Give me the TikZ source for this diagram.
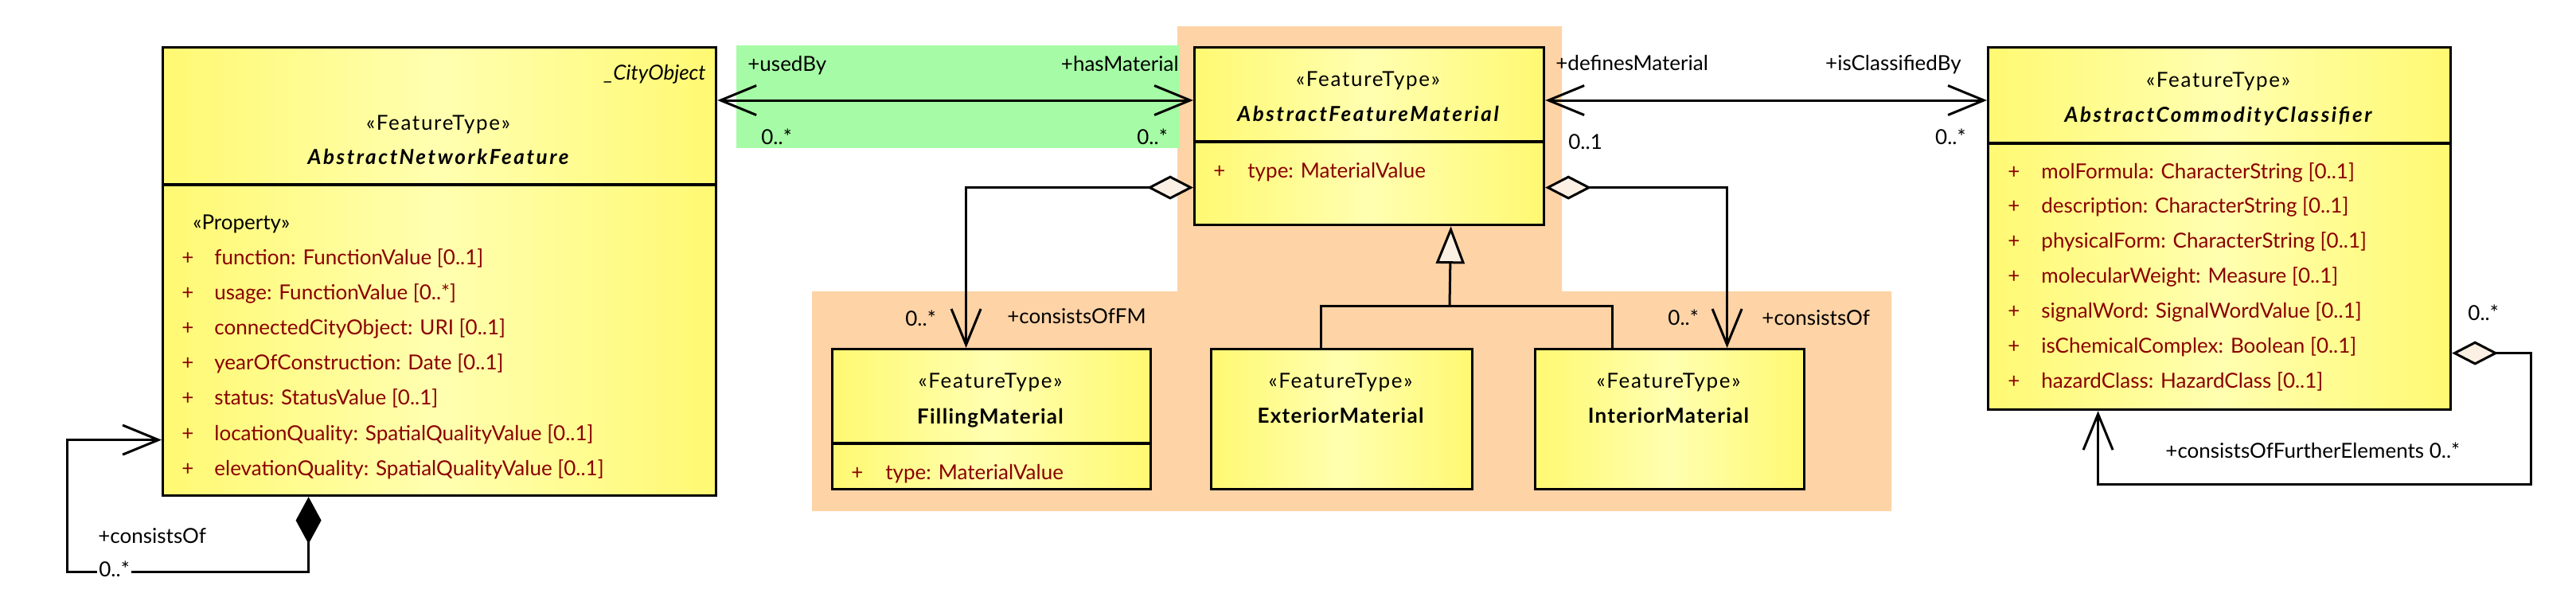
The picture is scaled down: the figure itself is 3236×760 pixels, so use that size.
\documentclass[tikz,border=0pt]{standalone}
\usepackage{fontspec}
\setmainfont{Lato}
\usetikzlibrary{arrows.meta,positioning,calc}
\definecolor{ClassLight}{HTML}{FFFFB0}
\definecolor{ClassDark}{HTML}{FFF972}
\definecolor{AttrRed}{HTML}{8B0000}
\definecolor{MatPeach}{HTML}{FED3A6}
\definecolor{UseGreen}{HTML}{A6FCA6}
\definecolor{TipCream}{HTML}{FBF0E3}

\begin{document}
\begin{tikzpicture}[
  x=0.5pt, y=-0.5pt,
  every node/.style={font=\fontsize{13}{15}\selectfont, inner sep=0pt},
  classbox/.style={draw, line width=1.6pt, anchor=north west,
    left color=ClassDark, right color=ClassDark, middle color=ClassLight},
  divider/.style={line width=1.6pt},
  stereo/.style={anchor=base, font=\fontsize{13}{15}\selectfont\addfontfeature{LetterSpace=6.5}},
  cname/.style={anchor=base, font=\fontsize{13}{15}\selectfont\bfseries\addfontfeature{LetterSpace=5}},
  aname/.style={anchor=base, font=\fontsize{13}{15}\selectfont\bfseries\itshape\addfontfeature{LetterSpace=10}},
  attr/.style={anchor=base west, text=AttrRed},
  lbl/.style={anchor=base west},
  conn/.style={line width=1.5pt},
  both/.style={line width=1.5pt, {Straight Barb[length=22.5pt,width=18.5pt]}-{Straight Barb[length=22.5pt,width=18.5pt]}},
  aggr/.style={line width=1.5pt, {Diamond[length=29pt,width=15pt,fill=TipCream]}-{Straight Barb[length=22.5pt,width=18.5pt]}},
  compo/.style={line width=1.5pt, {Diamond[length=29.5pt,width=16pt,fill=black]}-{Straight Barb[length=22.5pt,width=18.5pt]}},
  gen/.style={line width=1.5pt, -{Triangle[length=23.5pt,width=18pt,fill=TipCream]}}
]
  \useasboundingbox (0,0) rectangle (3236,760);

  % highlighted areas
  \fill[MatPeach] (1479,33) -- (1962,33) -- (1962,366) -- (2376,366) -- (2376,642)
    -- (1020,642) -- (1020,366) -- (1479,366) -- cycle;
  \fill[UseGreen] (925,57) rectangle (1482,186);

  % AbstractNetworkFeature
  \node[classbox, minimum width=347.5pt, minimum height=281.5pt] (anf) at (203,58) {};
  \draw[divider] ([yshift=-87pt]anf.north west) -- ([yshift=-87pt]anf.north east);
  \node[anchor=base east, font=\fontsize{13}{15}\selectfont\itshape] (anf-parent) at (887,100) {\_CityObject};
  \node[stereo] (anf-st) at (550.5,163) {«FeatureType»};
  \node[aname] (anf-name) at (550.5,206) {AbstractNetworkFeature};
  \node[lbl] (anf-prop) at (242,288) {«Property»};
  \foreach \txt [count=\i from 0] in {{function: FunctionValue [0..1]},
      {usage: FunctionValue [0..*]}, {connectedCityObject: URI [0..1]},
      {yearOfConstruction: Date [0..1]}, {status: StatusValue [0..1]},
      {locationQuality: SpatialQualityValue [0..1]},
      {elevationQuality: SpatialQualityValue [0..1]}} {
    \node[attr] (anf-p\i) at (228,{332+44.2*\i}) {+};
    \node[attr] (anf-a\i) at (269,{332+44.2*\i}) {\txt};
  }

  % AbstractFeatureMaterial
  \node[classbox, minimum width=219.5pt, minimum height=111.5pt] (afm) at (1499,58) {};
  \draw[divider] ([yshift=-60pt]afm.north west) -- ([yshift=-60pt]afm.north east);
  \node[stereo] (afm-st) at (1718.5,108) {«FeatureType»};
  \node[aname] (afm-name) at (1718.5,152) {AbstractFeatureMaterial};
  \node[attr] (afm-p0) at (1524,223) {+};
  \node[attr] (afm-a0) at (1567,223) {type: MaterialValue};

  % AbstractCommodityClassifier
  \node[classbox, minimum width=290.5pt, minimum height=227.5pt] (acc) at (2496,58) {};
  \draw[divider] ([yshift=-61pt]acc.north west) -- ([yshift=-61pt]acc.north east);
  \node[stereo] (acc-st) at (2786.5,109) {«FeatureType»};
  \node[aname] (acc-name) at (2786.5,153) {AbstractCommodityClassifier};
  \foreach \txt [count=\i from 0] in {{molFormula: CharacterString [0..1]},
      {description: CharacterString [0..1]}, {physicalForm: CharacterString [0..1]},
      {molecularWeight: Measure [0..1]}, {signalWord: SignalWordValue [0..1]},
      {isChemicalComplex: Boolean [0..1]}, {hazardClass: HazardClass [0..1]}} {
    \node[attr] (acc-p\i) at (2522,{224+43.9*\i}) {+};
    \node[attr] (acc-a\i) at (2564,{224+43.9*\i}) {\txt};
  }

  % material subclasses
  \node[classbox, minimum width=200pt, minimum height=88pt] (fm) at (1044,437) {};
  \draw[divider] ([yshift=-60pt]fm.north west) -- ([yshift=-60pt]fm.north east);
  \node[stereo] (fm-st) at (1244,487) {«FeatureType»};
  \node[cname] (fm-name) at (1244,532) {FillingMaterial};
  \node[attr] (fm-p0) at (1069,602) {+};
  \node[attr] (fm-a0) at (1112,602) {type: MaterialValue};

  \node[classbox, minimum width=164pt, minimum height=88pt] (em) at (1520,437) {};
  \node[stereo] (em-st) at (1684,487) {«FeatureType»};
  \node[cname] (em-name) at (1684,531) {ExteriorMaterial};

  \node[classbox, minimum width=169pt, minimum height=88pt] (im) at (1927,437) {};
  \node[stereo] (im-st) at (2096,487) {«FeatureType»};
  \node[cname] (im-name) at (2096,531) {InteriorMaterial};

  % associations
  \draw[both] ([yshift=-34pt]anf.north east) -- ([yshift=-34pt]afm.north west);
  \node[lbl] (usedby) at (939,89) {+usedBy};
  \node[anchor=base east] (hasmat) at (1481,89) {+hasMaterial};
  \node[lbl] (usedby-m) at (956,181) {0..*};
  \node[lbl] (hasmat-m) at (1428,181) {0..*};

  \draw[both] ([yshift=-34pt]afm.north east) -- ([yshift=-34pt]acc.north west);
  \node[lbl] (defmat) at (1954,88) {+definesMaterial};
  \node[lbl] (defmat-m) at (1970,187) {0..1};
  \node[anchor=base east] (isclass) at (2464,88) {+isClassifiedBy};
  \node[anchor=base east] (isclass-m) at (2470,181) {0..*};

  % aggregations of materials
  \draw[aggr] ([yshift=-32.25pt]afm.west) -| ([xshift=-16pt]fm.north);
  \node[lbl] (fm-m) at (1137,409) {0..*};
  \node[lbl] (fm-role) at (1265,406) {+consistsOfFM};

  \draw[aggr] ([yshift=-32.25pt]afm.east) -| ([xshift=36pt]im.north);
  \node[lbl] (im-m) at (2095,408) {0..*};
  \node[lbl] (im-role) at (2213,408) {+consistsOf};

  % generalization
  \coordinate (genjoin) at (1821,384);
  \draw[gen] (genjoin) -- ([xshift=51.25pt]afm.south);
  \draw[conn] ([xshift=-13pt]em.north) |- (genjoin) -| ([xshift=-36pt]im.north);

  % self associations
  \draw[compo] ([xshift=-82.25pt]anf.south) -- ++(0,94) -- ++(-303,0) |- ([yshift=-105.75pt]anf.west);
  \node[lbl] (anf-role) at (123,682) {+consistsOf};
  \node[lbl, fill=white, inner xsep=1pt] (anf-m) at (122,724) {0..*};

  \draw[aggr] ([yshift=-78.25pt]acc.east) -- ++(99,0) -- ++(0,165) -| ([xshift=-76.25pt]acc.south);
  \node[lbl] (acc-m) at (3100,402) {0..*};
  \node[lbl] (acc-role) at (2720,575) {+consistsOfFurtherElements 0..*};
\end{tikzpicture}
\end{document}
